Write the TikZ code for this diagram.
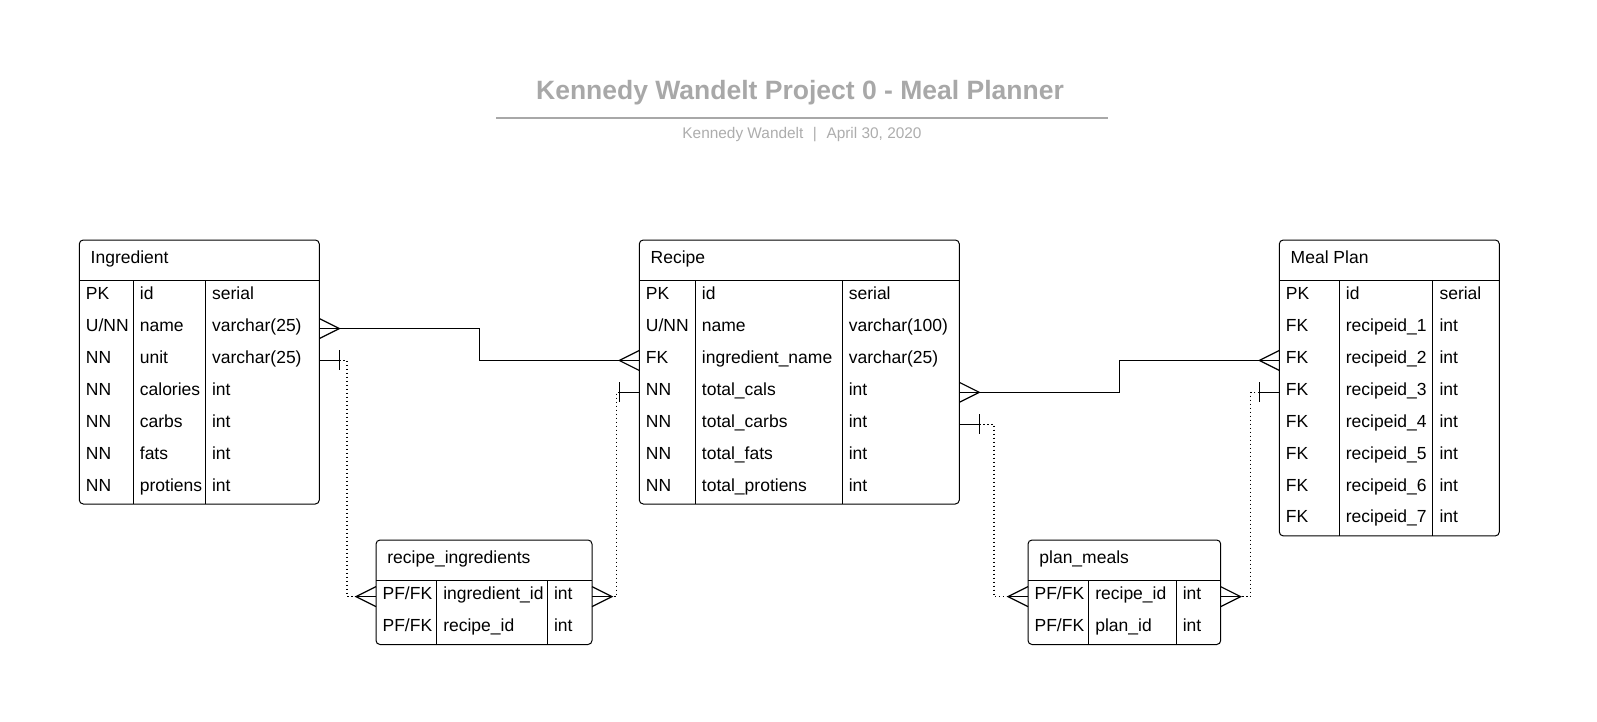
\documentclass[tikz,border=0pt]{standalone}
\usepackage{fontspec}
\setmainfont{Liberation Sans}
\usetikzlibrary{calc}
\definecolor{ttl}{HTML}{A8A8A8}
\definecolor{sub}{HTML}{ADADAD}
\tikzset{
  tbl/.style={draw=black, line width=1pt, rounded corners=4pt, inner sep=0pt, outer sep=0pt, anchor=north west},
  cell/.style={anchor=base west, inner sep=0pt, font=\fontsize{17.5}{20}\selectfont},
  sepline/.style={line width=1pt},
  rel/.style={line width=1.2pt},
  dotrel/.style={line width=1.2pt, dash pattern=on 1.5pt off 2.5pt},
}
\newcommand\settab[5]{\def\tx{#1}\def\txe{#2}\def\tca{#3}\def\tcb{#4}\def\ttop{#5}}
\newcommand\ertab[3]{%
  \pgfmathsetmacro\tbot{\ttop+40.7+#2*31.9}%
  \pgfmathsetmacro\tw{\txe-\tx}%
  \pgfmathsetmacro\th{\tbot-\ttop}%
  \node[tbl, minimum width=\tw pt, minimum height=\th pt] (#1) at (\tx,\ttop) {};
  \node[cell] (#1-title) at (\tx+11.2,\ttop+23.4) {#3};
  \draw[sepline] (\tx,\ttop+40.7) -- (\txe,\ttop+40.7);
  \draw[sepline] (\tca,\ttop+40.7) -- (\tca,\tbot);
  \draw[sepline] (\tcb,\ttop+40.7) -- (\tcb,\tbot);
}
\newcommand\erow[5]{%
  \pgfmathsetmacro\rb{\ttop+40.7+(#2-1)*31.9+18.9}%
  \pgfmathsetmacro\rc{\ttop+40.7+(#2-0.5)*31.9}%
  \node[cell] (#1-#2k) at (\tx+6.4,\rb) {#3};
  \node[cell] (#1-#2n) at (\tca+6.4,\rb) {#4};
  \node[cell] (#1-#2t) at (\tcb+6.6,\rb) {#5};
  \coordinate (#1-#2w) at (\tx,\rc);
  \coordinate (#1-#2e) at (\txe,\rc);
}
% crow's foot: prongs from the edge point to an apex #2 away, plus middle line
\newcommand\ercrow[2]{%
  \draw[rel] ($(#1)+(0,-10)$) -- ($(#1)+(#2,0)$) -- ($(#1)+(0,10)$);
  \draw[rel] (#1) -- ($(#1)+(#2,0)$);
}
% one bar: line from the edge to a bar #2 away
\newcommand\erbar[2]{%
  \draw[rel] (#1) -- ($(#1)+(#2,0)$);
  \draw[rel] ($(#1)+(#2,-10)$) -- ($(#1)+(#2,10)$);
}
\begin{document}
\begin{tikzpicture}[x=1pt,y=-1pt]
\useasboundingbox (0,0) rectangle (1597,722);
\fill[white] (0,0) rectangle (1597,722);

% title block
\node[anchor=base, inner sep=0pt, text=ttl, font=\fontsize{26.5}{30}\selectfont\bfseries] (title) at (800,99.5) {Kennedy Wandelt Project 0 - Meal Planner};
\coordinate (rule-l) at (496,118.3);
\coordinate (rule-r) at (1107.5,118.3);
\draw[ttl, line width=1.8pt] (rule-l) -- (rule-r);
\node[anchor=base, inner sep=0pt, text=sub, font=\fontsize{15.4}{18}\selectfont] (subtitle) at (802,138.5) {Kennedy Wandelt\hspace{0.62em}|\hspace{0.62em}April 30, 2020};

% Ingredient
\settab{79.3}{319.3}{133.3}{205.3}{240}
\ertab{ing}{7}{Ingredient}
\erow{ing}{1}{PK}{id}{serial}
\erow{ing}{2}{U/NN}{name}{varchar(25)}
\erow{ing}{3}{NN}{unit}{varchar(25)}
\erow{ing}{4}{NN}{calories}{int}
\erow{ing}{5}{NN}{carbs}{int}
\erow{ing}{6}{NN}{fats}{int}
\erow{ing}{7}{NN}{protiens}{int}

% Recipe
\settab{639.3}{959.3}{695.3}{842}{240}
\ertab{rec}{7}{Recipe}
\erow{rec}{1}{PK}{id}{serial}
\erow{rec}{2}{U/NN}{name}{varchar(100)}
\erow{rec}{3}{FK}{ingredient\_name}{varchar(25)}
\erow{rec}{4}{NN}{total\_cals}{int}
\erow{rec}{5}{NN}{total\_carbs}{int}
\erow{rec}{6}{NN}{total\_fats}{int}
\erow{rec}{7}{NN}{total\_protiens}{int}

% Meal Plan
\settab{1279.3}{1499.3}{1339.3}{1432.7}{240}
\ertab{mp}{8}{Meal Plan}
\erow{mp}{1}{PK}{id}{serial}
\erow{mp}{2}{FK}{recipeid\_1}{int}
\erow{mp}{3}{FK}{recipeid\_2}{int}
\erow{mp}{4}{FK}{recipeid\_3}{int}
\erow{mp}{5}{FK}{recipeid\_4}{int}
\erow{mp}{6}{FK}{recipeid\_5}{int}
\erow{mp}{7}{FK}{recipeid\_6}{int}
\erow{mp}{8}{FK}{recipeid\_7}{int}

% recipe_ingredients
\settab{376}{592}{436.7}{547.3}{540}
\ertab{ri}{2}{recipe\_ingredients}
\erow{ri}{1}{PF/FK}{ingredient\_id}{int}
\erow{ri}{2}{PF/FK}{recipe\_id}{int}

% plan_meals
\settab{1028}{1220.7}{1088.7}{1176}{540}
\ertab{pm}{2}{plan\_meals}
\erow{pm}{1}{PF/FK}{recipe\_id}{int}
\erow{pm}{2}{PF/FK}{plan\_id}{int}

% Ingredient.name -- Recipe.ingredient_name
\draw[rel] (ing-2e) -| ($(ing-2e)!0.5!(rec-3w)$) |- (rec-3w);
\ercrow{ing-2e}{20}
\ercrow{rec-3w}{-20}

% Recipe.total_cals -- Meal Plan.recipeid_2
\draw[rel] (rec-4e) -| ($(rec-4e)!0.5!(mp-3w)$) |- (mp-3w);
\ercrow{rec-4e}{20}
\ercrow{mp-3w}{-20}

% Ingredient.unit -- recipe_ingredients.ingredient_id
\erbar{ing-3e}{20}
\draw[dotrel] ($(ing-3e)+(20,0)$) -| ($(ri-1w)+(-29,0)$) -- ($(ri-1w)+(-20,0)$);
\ercrow{ri-1w}{-20}

% Recipe.total_cals -- recipe_ingredients
\erbar{rec-4w}{-20}
\draw[dotrel] ($(rec-4w)+(-20,0)$) -| ($(ri-1e)+(24.5,0)$) -- ($(ri-1e)+(20,0)$);
\ercrow{ri-1e}{20}

% Recipe.total_carbs -- plan_meals.recipe_id
\erbar{rec-5e}{20}
\draw[dotrel] ($(rec-5e)+(20,0)$) -| ($(pm-1w)+(-34,0)$) -- ($(pm-1w)+(-20,0)$);
\ercrow{pm-1w}{-20}

% Meal Plan.recipeid_3 -- plan_meals
\erbar{mp-4w}{-20}
\draw[dotrel] ($(mp-4w)+(-20,0)$) -| ($(pm-1e)+(29.8,0)$) -- ($(pm-1e)+(20,0)$);
\ercrow{pm-1e}{20}
\end{tikzpicture}
\end{document}
